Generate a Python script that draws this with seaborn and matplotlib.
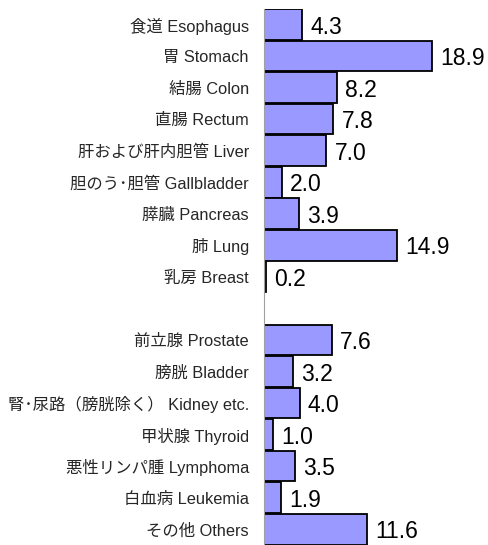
import pandas as pd
import matplotlib
matplotlib.use("Agg")
import matplotlib.pyplot as plt
import seaborn as sns

# Data
cancer_sites = [
    "食道 Esophagus", "胃 Stomach", "結腸 Colon", "直腸 Rectum",
    "肝および肝内胆管 Liver", "胆のう･胆管 Gallbladder", "膵臓 Pancreas",
    "肺 Lung", "乳房 Breast",
    "前立腺 Prostate", "膀胱 Bladder", "腎･尿路（膀胱除く） Kidney etc.",
    "甲状腺 Thyroid", "悪性リンパ腫 Lymphoma", "白血病 Leukemia", "その他 Others",
]
rates = [4.3, 18.9, 8.2, 7.8, 7.0, 2.0, 3.9, 14.9, 0.2,
         7.6, 3.2, 4.0, 1.0, 3.5, 1.9, 11.6]
gap_label = " "
site_order = cancer_sites[:9] + [gap_label] + cancer_sites[9:]

df = pd.DataFrame({"site": cancer_sites, "rate": rates})

sns.set_theme(style="white")
plt.rcParams["font.family"] = ["Liberation Sans", "Noto Sans CJK JP", "DejaVu Sans"]

fig = plt.figure(figsize=(4.89, 5.45), dpi=100)
ax = fig.add_axes([0.540, 0.0, 0.460, 0.984])

sns.barplot(data=df, x="rate", y="site", order=site_order, orient="h",
            color="#9999FF", saturation=1, width=0.97,
            edgecolor="black", linewidth=1.3, errorbar=None, ax=ax)

# value labels to the right of each bar
for i, site in enumerate(site_order):
    if site == gap_label:
        continue
    v = df.loc[df["site"] == site, "rate"].iloc[0]
    ax.annotate(f"{v:.1f}", xy=(v, i + 0.08), xytext=(6, 0),
                textcoords="offset points", va="center", ha="left",
                fontsize=16.5, color="black")

ax.set_xlim(0, 25.3)
ax.set_ylim(len(site_order) - 0.5, -0.5)
ax.set_xlabel("")
ax.set_ylabel("")
ax.set_xticks([])
ax.tick_params(axis="y", length=0, pad=11, labelsize=11.8)

for side in ["top", "right", "bottom"]:
    ax.spines[side].set_visible(False)
ax.spines["left"].set_color("#a0a0a0")
ax.spines["left"].set_linewidth(0.8)

fig.savefig("out.png", dpi=100)
